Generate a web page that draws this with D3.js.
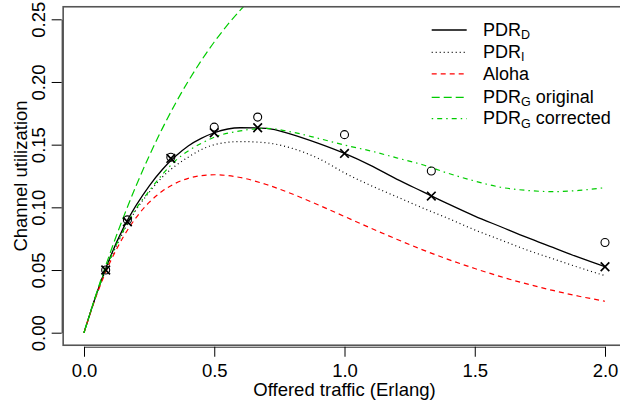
<!DOCTYPE html>
<html><head><meta charset="utf-8">
<script src="https://cdn.jsdelivr.net/npm/d3@7"></script>
<style>
html,body{margin:0;padding:0;background:#fff;}
text{font-family:"Liberation Sans",Arial,Helvetica,sans-serif;fill:#000;}
</style></head>
<body>
<svg id="chart" width="620" height="405"></svg>
<script>
// ---- data ----
const xGrid = [0,0.05,0.1,0.15,0.2,0.25,0.3,0.35,0.4,0.45,0.5,0.6,0.7,0.8,0.9,1.0,1.1,1.2,1.3,1.4,1.5,1.6,1.7,1.8,1.9,2.0];
const pdrD = [0,0.032,0.060,0.083,0.1015,0.117,0.130,0.1405,0.149,0.155,0.1595,0.1635,0.163,0.158,0.151,0.143,0.1335,0.1225,0.1125,0.1025,0.093,0.0845,0.076,0.068,0.060,0.0526];
const pdrI = [0,0.032,0.058,0.080,0.098,0.112,0.124,0.133,0.140,0.146,0.150,0.1525,0.1515,0.147,0.139,0.1275,0.1175,0.1085,0.0995,0.091,0.082,0.074,0.066,0.059,0.052,0.0455];
const aloha = [0,0.0310,0.0561,0.0761,0.0918,0.1039,0.1128,0.1191,0.1231,0.1253,0.1260,0.1238,0.1182,0.1106,0.1019,0.0927,0.0835,0.0746,0.0661,0.0583,0.0512,0.0447,0.0389,0.0337,0.0291,0.0251];
const gOrigX = [0,0.05,0.1,0.15,0.2,0.25,0.3,0.35,0.4,0.45,0.5,0.55,0.6,0.65,0.7];
const gOrig = [0,0.0329,0.0634,0.0914,0.1172,0.1409,0.1626,0.1825,0.2006,0.2170,0.2319,0.2453,0.2573,0.2682,0.2778];
const gCorr = [0,0.032,0.059,0.081,0.099,0.113,0.126,0.137,0.145,0.151,0.156,0.161,0.163,0.160,0.155,0.1497,0.145,0.1395,0.134,0.127,0.121,0.116,0.1135,0.1125,0.1135,0.1157];
const ptX = [0.0833,0.1667,0.3333,0.5,0.6667,1.0,1.3333,2.0];
const ptCircle = [0.050,0.090,0.140,0.164,0.172,0.158,0.129,0.072];
const ptCross = [0.050,0.0885,0.139,0.1595,0.1635,0.143,0.109,0.0526];
const xTicks = [0,0.5,1,1.5,2];
const yTicks = [0,0.05,0.1,0.15,0.2,0.25];
const xLabel = "Offered traffic (Erlang)";
const yLabel = "Channel utilization";

// ---- layout ----
const FS = 18.5;
const LFS = 18;
const svg = d3.select("#chart");
const x = d3.scaleLinear().domain([0,2]).range([84,605]);
const y = d3.scaleLinear().domain([0,0.25]).range([332.7,19.3]);
const bx0 = x(-0.08), bx1 = x(2.08), by0 = y(-0.01), by1 = y(0.26);

svg.append("clipPath").attr("id","clip").append("rect")
  .attr("x",bx0).attr("y",by1).attr("width",bx1-bx0).attr("height",by0-by1);

const series = [
  {name:"PDR", sub:"D", xs:xGrid, ys:pdrD, color:"#000", dash:null, w:1.3},
  {name:"PDR", sub:"I", xs:xGrid, ys:pdrI, color:"#000", dash:"1,3", w:1.2},
  {name:"Aloha", sub:null, xs:xGrid, ys:aloha, color:"#ff0000", dash:"5,4", w:1.2},
  {name:"PDR", sub:"G", suffix:" original", xs:gOrigX, ys:gOrig, color:"#00cc00", dash:"8,4", w:1.2},
  {name:"PDR", sub:"G", suffix:" corrected", xs:xGrid, ys:gCorr, color:"#00cc00", dash:"1.5,4,5,4", w:1.2}
];

const line = d3.line().x(d=>x(d[0])).y(d=>y(d[1])).curve(d3.curveMonotoneX);
const plot = svg.append("g").attr("clip-path","url(#clip)");
series.forEach(s=>{
  plot.append("path")
    .datum(s.xs.map((v,i)=>[v,s.ys[i]]))
    .attr("d",line).attr("fill","none")
    .attr("stroke",s.color).attr("stroke-width",s.w)
    .attr("stroke-dasharray",s.dash);
});

// markers
plot.selectAll("circle.pt").data(ptX.map((v,i)=>[v,ptCircle[i]])).join("circle")
  .attr("class","pt").attr("cx",d=>x(d[0])).attr("cy",d=>y(d[1])).attr("r",4)
  .attr("fill","none").attr("stroke","#000").attr("stroke-width",1.1);
const cr = 4.3;
plot.selectAll("path.cross").data(ptX.map((v,i)=>[v,ptCross[i]])).join("path")
  .attr("class","cross")
  .attr("d",d=>{const cx=x(d[0]),cy=y(d[1]);return `M${cx-cr},${cy-cr}L${cx+cr},${cy+cr}M${cx-cr},${cy+cr}L${cx+cr},${cy-cr}`;})
  .attr("stroke","#000").attr("stroke-width",1.7).attr("fill","none");

// box
svg.append("rect").attr("x",bx0).attr("y",by1).attr("width",bx1-bx0).attr("height",by0-by1)
  .attr("fill","none").attr("stroke","#555").attr("stroke-width",1.6);

// x axis
const xAxis = svg.append("g").attr("transform",`translate(0,${by0+1.5})`)
  .call(d3.axisBottom(x).tickValues(xTicks).tickFormat(d3.format(".1f")).tickSize(10).tickSizeOuter(0).tickPadding(7));
xAxis.select(".domain").attr("stroke","#333");
xAxis.selectAll(".tick line").attr("stroke","#000");
xAxis.selectAll("text").attr("font-size",FS).style("font-family","Liberation Sans, Arial, sans-serif").attr("fill","#000");

// y axis
const yAxis = svg.append("g").attr("transform",`translate(${bx0-1.5},0)`)
  .call(d3.axisLeft(y).tickValues(yTicks).tickFormat(d3.format(".2f")).tickSize(10).tickSizeOuter(0));
yAxis.select(".domain").attr("stroke","#333");
yAxis.selectAll(".tick line").attr("stroke","#000");
yAxis.selectAll(".tick text").remove();
yAxis.selectAll(".tick").append("text")
  .attr("transform",`translate(${45-(bx0-1.5)},0) rotate(-90)`)
  .attr("text-anchor","middle").attr("font-size",FS).attr("fill","#000")
  .style("font-family","Liberation Sans, Arial, sans-serif")
  .text(d=>d3.format(".2f")(d));

// axis titles
svg.append("text").attr("x",(x(0)+x(2))/2).attr("y",396).attr("text-anchor","middle")
  .attr("font-size",FS).text(xLabel);
svg.append("text").attr("transform",`translate(26.5,${(by0+by1)/2}) rotate(-90)`)
  .attr("text-anchor","middle").attr("font-size",FS).text(yLabel);

// legend
const legY = [30,52.3,73.8,97.3,118.7];
const leg = svg.append("g");
series.forEach((s,i)=>{
  const ly = legY[i];
  leg.append("line").attr("x1",431.7).attr("x2",466.7).attr("y1",ly).attr("y2",ly)
    .attr("stroke",s.color).attr("stroke-width",s.w).attr("stroke-dasharray",s.dash);
  const t = leg.append("text").attr("x",483).attr("y",ly + (s.sub?5.5:6.5)).attr("font-size",LFS);
  t.append("tspan").text(s.name);
  if (s.sub){
    t.append("tspan").attr("font-size",12.5).attr("dy",3.5).text(s.sub);
    if (s.suffix) t.append("tspan").attr("dy",-3.5).text(s.suffix);
  }
});
</script>
</body></html>
